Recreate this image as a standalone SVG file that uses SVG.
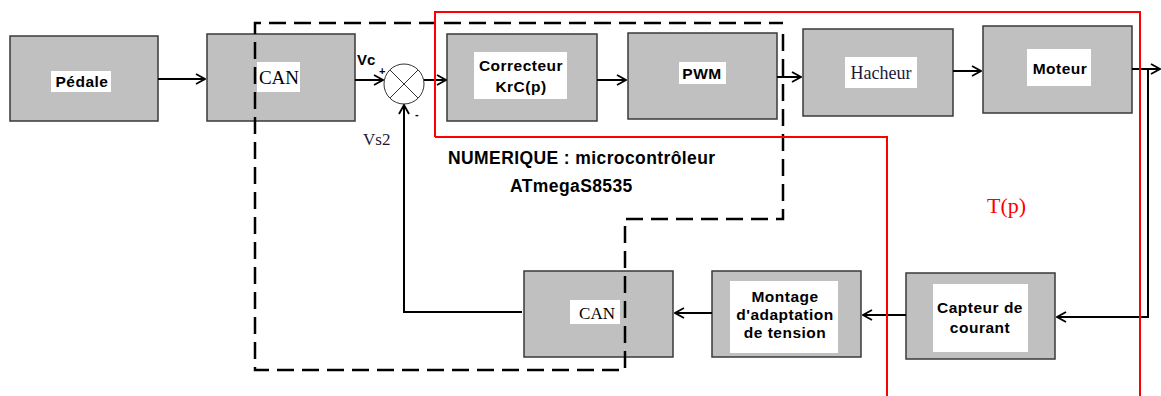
<svg xmlns="http://www.w3.org/2000/svg" width="1161" height="396" viewBox="0 0 1161 396">
  <style>
    .box { fill: #c0c0c0; stroke: #3a3a3a; stroke-width: 1.5; }
    .lbl { fill: #ffffff; }
    .sans { font-family: "Liberation Sans", Arial, sans-serif; font-weight: bold; font-size: 15.5px; letter-spacing: 0.5px; fill: #000; }
    .serif { font-family: "Liberation Serif", "Times New Roman", serif; fill: #000; }
    .wire { fill: none; stroke: #000; stroke-width: 2; }
    .dash { fill: none; stroke: #000; stroke-width: 2.5; stroke-dasharray: 17 8; }
    .red { fill: none; stroke: #ff0000; stroke-width: 2; }
  </style>
  <defs>
    <marker id="arr" viewBox="0 0 12 12" refX="11" refY="6" markerWidth="12" markerHeight="12" markerUnits="userSpaceOnUse" orient="auto">
      <polyline points="2,1 11,6 2,11" fill="none" stroke="#000" stroke-width="1.8"/>
    </marker>
  </defs>

  <rect width="1161" height="396" fill="#ffffff"/>

  <g id="pedale">
    <rect class="box" x="10" y="36" width="148" height="85"/>
    <rect class="lbl" x="51" y="71" width="60" height="21"/>
    <text class="sans" x="82" y="87" text-anchor="middle">Pédale</text>
  </g>

  <g id="can1">
    <rect class="box" x="207" y="34" width="148" height="87"/>
    <rect class="lbl" x="257" y="62" width="43" height="30"/>
    <text class="serif" x="279" y="84" font-size="19" text-anchor="middle">CAN</text>
  </g>

  <g id="sum">
    <circle cx="404" cy="84" r="20" fill="#fff" stroke="#333" stroke-width="1"/>
    <line x1="390" y1="70" x2="418" y2="98" stroke="#333" stroke-width="1"/>
    <line x1="418" y1="70" x2="390" y2="98" stroke="#333" stroke-width="1"/>
    <text class="sans" x="357" y="65" style="font-size:15px;letter-spacing:0">Vc</text>
    <text class="sans" x="379" y="75" style="font-size:11px">+</text>
    <text class="sans" x="415" y="118" style="font-size:11px">-</text>
    <text class="serif" x="363" y="145" font-size="17" style="fill:#1a1a3a">Vs2</text>
  </g>

  <g id="correcteur">
    <rect class="box" x="447" y="34" width="150" height="87"/>
    <rect class="lbl" x="474" y="52" width="93" height="47"/>
    <text class="sans" x="521" y="71" text-anchor="middle">Correcteur</text>
    <text class="sans" x="521" y="92" text-anchor="middle">KrC(p)</text>
  </g>

  <g id="pwm">
    <rect class="box" x="628" y="33" width="149" height="86"/>
    <rect class="lbl" x="679" y="62" width="47" height="22"/>
    <text class="sans" x="702" y="79" text-anchor="middle">PWM</text>
  </g>

  <g id="hacheur">
    <rect class="box" x="803" y="29" width="150" height="87"/>
    <rect class="lbl" x="845" y="57" width="72" height="31"/>
    <text class="serif" x="881" y="79" font-size="18" text-anchor="middle" style="fill:#1a1a3a">Hacheur</text>
  </g>

  <g id="moteur">
    <rect class="box" x="983" y="26" width="149" height="87"/>
    <rect class="lbl" x="1027" y="49" width="64" height="37"/>
    <text class="sans" x="1060" y="74" text-anchor="middle">Moteur</text>
  </g>

  <g id="capteur">
    <rect class="box" x="906" y="273" width="149" height="86"/>
    <rect class="lbl" x="933" y="284" width="95" height="68"/>
    <text class="sans" x="980" y="313" text-anchor="middle">Capteur de</text>
    <text class="sans" x="980" y="333" text-anchor="middle">courant</text>
  </g>

  <g id="montage">
    <rect class="box" x="712" y="271" width="149" height="86"/>
    <rect class="lbl" x="730" y="281" width="108" height="72"/>
    <text class="sans" x="785" y="302" text-anchor="middle">Montage</text>
    <text class="sans" x="785" y="320" text-anchor="middle">d'adaptation</text>
    <text class="sans" x="785" y="338" text-anchor="middle">de tension</text>
  </g>

  <g id="can2">
    <rect class="box" x="524" y="271" width="149" height="86"/>
    <rect class="lbl" x="570" y="300" width="50" height="24"/>
    <text class="serif" x="597" y="319" font-size="17" text-anchor="middle">CAN</text>
  </g>

  <!-- connectors -->
  <g id="connectors">
    <line class="wire" x1="158" y1="79" x2="205" y2="79" marker-end="url(#arr)"/>
    <line class="wire" x1="355" y1="80" x2="383" y2="80" marker-end="url(#arr)"/>
    <line class="wire" x1="424" y1="80" x2="446" y2="80" marker-end="url(#arr)"/>
    <line class="wire" x1="597" y1="80" x2="626" y2="80" marker-end="url(#arr)"/>
    <line class="wire" x1="777" y1="77" x2="801" y2="77" marker-end="url(#arr)"/>
    <line class="wire" x1="953" y1="71" x2="981" y2="71" marker-end="url(#arr)"/>
    <line class="wire" x1="1132" y1="69" x2="1160" y2="69" marker-end="url(#arr)"/>
    <polyline class="wire" points="1148,69 1148,317 1057,317" marker-end="url(#arr)"/>
    <line class="wire" x1="906" y1="315" x2="863" y2="315" marker-end="url(#arr)"/>
    <line class="wire" x1="712" y1="313" x2="675" y2="313" marker-end="url(#arr)"/>
    <polyline class="wire" points="522,312 404,312 404,105" marker-end="url(#arr)"/>
  </g>

  <!-- microcontroller outline (dashed), drawn over the blocks -->
  <g id="zone-mcu">
    <polyline class="dash" points="783,34 783,219 625,219 625,370 255,370 255,23 783,23"/>
    <text class="sans" x="448" y="164" style="font-size:17.5px;letter-spacing:0.4px">NUMERIQUE : microcontrôleur</text>
    <text class="sans" x="510" y="192" style="font-size:17.5px;letter-spacing:0.4px">ATmegaS8535</text>
  </g>

  <!-- regulation loop outline (red) -->
  <g id="zone-tp">
    <polyline class="red" points="435,137 435,12 1140,12 1140,396"/>
    <polyline class="red" points="435,137 887,137 887,396"/>
    <text class="serif" x="987" y="213" font-size="22" style="fill:#ff0000">T(p)</text>
  </g>
</svg>
